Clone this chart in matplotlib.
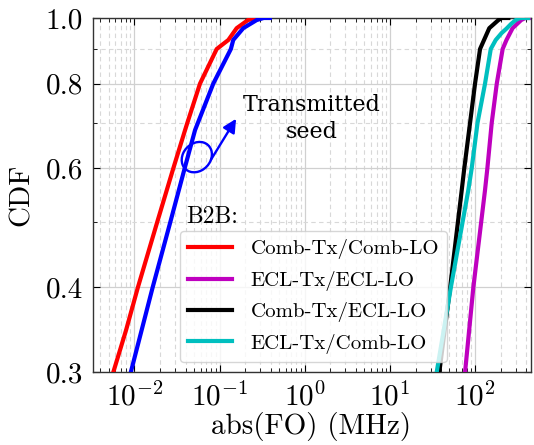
import matplotlib
matplotlib.use("Agg")
import matplotlib.pyplot as plt
from matplotlib.patches import Ellipse
from matplotlib.ticker import FixedLocator, NullFormatter, LogLocator

plt.rcParams['font.family'] = ['cmr10', 'DejaVu Serif']
plt.rcParams['mathtext.fontset'] = 'cm'
plt.rcParams['axes.formatter.use_mathtext'] = True
plt.rcParams['axes.unicode_minus'] = False

# ---- data ----
labels = ["Comb-Tx/Comb-LO", "ECL-Tx/ECL-LO", "Comb-Tx/ECL-LO", "ECL-Tx/Comb-LO"]
colors = ["#ff0000", "#bf00bf", "#000000", "#00bfbf"]

red_cdf = [0.3, 0.346, 0.4, 0.5, 0.6, 0.683, 0.7, 0.8, 0.9, 0.928, 0.966, 0.993, 1.0]
red_fo = [0.00567, 0.008, 0.011, 0.0186, 0.0287, 0.0394, 0.0419, 0.059, 0.0927, 0.127, 0.159, 0.216, 0.273]

blue_cdf = [0.3, 0.4, 0.5, 0.6, 0.683, 0.8, 0.9, 0.928, 0.966, 0.993, 1.0, 1.0]
blue_fo = [0.0091, 0.0164, 0.0265, 0.039, 0.0516, 0.0845, 0.136, 0.145, 0.19, 0.273, 0.33, 0.39]

mag_cdf = [0.3, 0.4, 0.557, 0.6, 0.7, 0.8, 0.9, 0.928, 0.966, 0.993, 1.0, 1.0]
mag_fo = [76.4, 95.5, 131, 139.6, 157, 180, 211, 234, 276, 348, 390, 440]

blk_cdf = [0.3, 0.4, 0.557, 0.6, 0.7, 0.8, 0.9, 0.966, 0.993, 1.0, 1.0]
blk_fo = [38.1, 51, 69.8, 74.8, 87.4, 100, 114.5, 147, 188, 206, 246]

cyan_cdf = [0.3, 0.4, 0.557, 0.6, 0.7, 0.8, 0.9, 0.928, 0.95, 0.965, 0.98, 0.993, 1.0, 1.0]
cyan_fo = [35.5, 52, 83.4, 91.4, 107, 131, 153, 175, 205, 235, 265, 300, 335, 420]

yticks = [0.3, 0.4, 0.6, 0.8, 1.0]
yticklabels = ["0.3", "0.4", "0.6", "0.8", "1.0"]
yminor = [0.5, 0.7, 0.9]

fig = plt.figure(figsize=(5.34, 4.45), dpi=100)
ax = fig.add_axes([93/534, (445-372)/445, 438/534, 354/445])

lw = 3.0
ax.plot(red_fo, red_cdf, color=colors[0], lw=lw, label=labels[0], zorder=3)
ax.plot(mag_fo, mag_cdf, color=colors[1], lw=lw, label=labels[1], zorder=3)
ax.plot(blk_fo, blk_cdf, color=colors[2], lw=lw, label=labels[2], zorder=3)
ax.plot(cyan_fo, cyan_cdf, color=colors[3], lw=lw, label=labels[3], zorder=3)
ax.plot(blue_fo, blue_cdf, color="#0000ff", lw=lw, zorder=3)

ax.set_xscale('log')
ax.set_yscale('log')
ax.set_xlim(3.27e-3, 454)
ax.set_ylim(0.3, 1.0)

ax.yaxis.set_major_locator(FixedLocator(yticks))
ax.set_yticklabels(yticklabels)
ax.yaxis.set_minor_locator(FixedLocator(yminor))
ax.yaxis.set_minor_formatter(NullFormatter())
ax.xaxis.set_major_locator(LogLocator(base=10, numticks=20))
ax.xaxis.set_minor_locator(LogLocator(base=10, subs=range(2, 10), numticks=20))
ax.xaxis.set_minor_formatter(NullFormatter())

ax.tick_params(which='both', direction='in', top=True, right=True, labelsize=21)
ax.tick_params(which='major', length=5, width=0.8, pad=7)
ax.tick_params(which='minor', length=3, width=0.6)

ax.grid(True, which='major', color='#d0d0d0', lw=0.9, ls='-', zorder=0)
ax.grid(True, which='minor', color='#d8d8d8', lw=0.8, ls=(0, (4, 3)), zorder=0)
ax.set_axisbelow(True)
for s in ax.spines.values():
    s.set_linewidth(1.0)
    s.set_color('#333333')

ax.set_xlabel("abs(FO) (MHz)", fontsize=21)
ax.set_ylabel("CDF", fontsize=21)
ax.xaxis.set_label_coords(0.498, -0.113)
ax.yaxis.set_label_coords(-0.132, 0.5)

leg = ax.legend(loc='lower left', bbox_to_anchor=(0.198, 0.028), borderaxespad=0,
                fontsize=15, handlelength=2.1, labelspacing=0.55, handletextpad=0.9)
ax.text(0.212, 0.438, "B2B:", transform=ax.transAxes, fontsize=17, va='center', ha='left')

# annotation: ellipse + arrow + text
ell = Ellipse((0.237, 0.607), 0.066, 0.088, angle=-20, transform=ax.transAxes,
              fill=False, edgecolor='#0000ff', lw=1.7, zorder=4)
ax.add_patch(ell)
ax.annotate("", xy=(0.330, 0.722), xytext=(0.266, 0.593), xycoords='axes fraction',
            textcoords='axes fraction',
            arrowprops=dict(arrowstyle='-|>', color='#0000ff', lw=1.7, mutation_scale=20))
ax.text(0.5, 0.716, "Transmitted\nseed", transform=ax.transAxes, fontsize=16,
        family='DejaVu Serif', ha='center', va='center', linespacing=1.25)

fig.savefig("out.png", dpi=100)
